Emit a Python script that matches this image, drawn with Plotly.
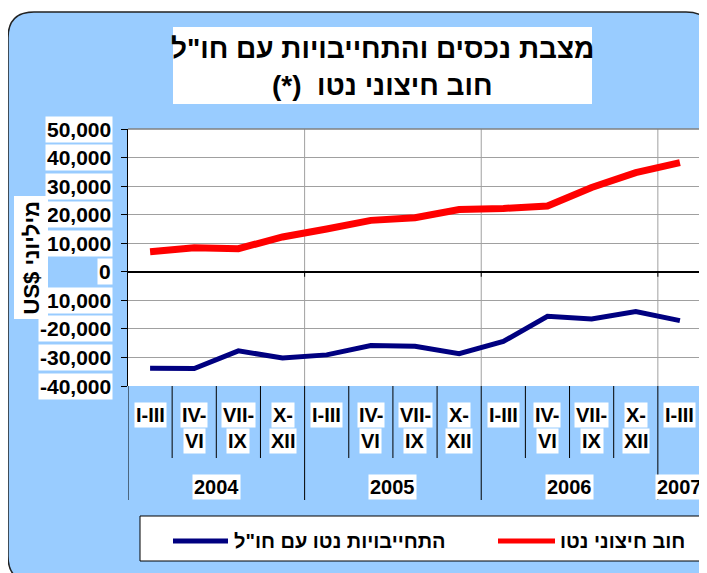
import plotly.graph_objects as go

# ---------------- data ----------------
years = ["2004", "2005", "2006", "2007"]
quarters_per_year = [4, 4, 4, 1]
quarter_labels = ["I-III", "IV-VI", "VII-IX", "X-XII"]
quarter_label_lines = [["I-III"], ["IV-", "VI"], ["VII-", "IX"], ["X-", "XII"]]

net_external_debt = [7000, 8400, 8100, 12200, 15000, 18000, 18900, 21800,
                     22200, 23000, 29500, 34700, 38200]
net_liabilities = [-33800, -33900, -27700, -30200, -29100, -25800, -26100,
                   -28700, -24400, -15600, -16500, -13900, -17100]

y_ticks = list(range(-40000, 50001, 10000))

name_debt = "חוב חיצוני נטו"
name_liab = 'התחייבויות נטו עם חו"ל'
title_line1 = 'מצבת נכסים והתחייבויות עם חו"ל'
title_line2 = "(*)\u00a0\u00a0חוב חיצוני נטו"
y_title = "US$ מיליוני"

# ---------------- layout helpers (screen pixel coords; page has 8px body margin) ----------------
W, H = 699, 565
OFF = 8
L, R, T, B = 128, 702, 129, 386
PW, PH = R - L, B - T


def px(x):
    return (x - L) / PW


def py(y):
    return (B - y) / PH


FONT = "Arial, Liberation Sans, DejaVu Sans, sans-serif"
BLUE_BG = "#99CCFF"

# categories
x_cats, x_quarter_idx, year_groups = [], [], []
i = 0
for yr, n in zip(years, quarters_per_year):
    start = i
    for q in range(n):
        x_cats.append(f"{quarter_labels[q]} {yr}")
        x_quarter_idx.append(q)
        i += 1
    year_groups.append((yr, start, i - 1))

fig = go.Figure()
fig.add_trace(go.Scatter(x=x_cats, y=net_liabilities, mode="lines", name=name_liab,
                         line=dict(color="#000080", width=5), showlegend=False))
fig.add_trace(go.Scatter(x=x_cats, y=net_external_debt, mode="lines", name=name_debt,
                         line=dict(color="#FF0000", width=7), showlegend=False))

shapes = []
# white page corners outside the rounded frame
shapes.append(dict(type="rect", xref="paper", yref="paper", layer="below",
                   x0=px(0), x1=px(720), y0=py(0), y1=py(600),
                   fillcolor="white", line=dict(width=0)))
# blue rounded background (runs past the right/bottom edges like the reference)
x0, x1, y0, y1, r = 8, 712, 12, 582, 26
X, Y = px, py
path = (f"M {X(x0+r)},{Y(y0)} L {X(x1-r)},{Y(y0)} Q {X(x1)},{Y(y0)} {X(x1)},{Y(y0+r)} "
        f"L {X(x1)},{Y(y1-r)} Q {X(x1)},{Y(y1)} {X(x1-r)},{Y(y1)} "
        f"L {X(x0+r)},{Y(y1)} Q {X(x0)},{Y(y1)} {X(x0)},{Y(y1-r)} "
        f"L {X(x0)},{Y(y0+r)} Q {X(x0)},{Y(y0)} {X(x0+r)},{Y(y0)} Z")
shapes.append(dict(type="path", path=path, xref="paper", yref="paper", layer="below",
                   fillcolor=BLUE_BG, line=dict(color="#222222", width=1.5)))
# white plot area
shapes.append(dict(type="rect", xref="paper", yref="paper", x0=0, x1=1, y0=0, y1=1,
                   layer="below", fillcolor="white", line=dict(width=0)))
# vertical gridlines at year boundaries
year_bounds = [g[1] - 0.5 for g in year_groups]
for b in year_bounds[1:]:
    shapes.append(dict(type="line", xref="x", yref="paper", x0=b, x1=b, y0=0, y1=1,
                       layer="below", line=dict(color="#A0A0A0", width=1)))
    shapes.append(dict(type="line", xref="x", yref="y", ysizemode="pixel", yanchor=0,
                       x0=b, x1=b, y0=0, y1=-5, line=dict(color="black", width=1)))
# plot border top / right
shapes.append(dict(type="line", xref="paper", yref="paper", x0=0, x1=1, y0=1, y1=1,
                   line=dict(color="#808080", width=1.5)))
shapes.append(dict(type="line", xref="paper", yref="paper", x0=1, x1=1, y0=0, y1=1,
                   line=dict(color="#808080", width=1.5)))
# category dividers
for k in range(len(x_cats)):
    b = k - 0.5
    long_line = b in year_bounds
    shapes.append(dict(type="line", xref="x", yref="paper", x0=b, x1=b,
                       y0=py(386), y1=py(500 if long_line else 458),
                       line=dict(color="black", width=1)))
# title box
shapes.append(dict(type="rect", xref="paper", yref="paper", x0=px(173), x1=px(592),
                   y0=py(104), y1=py(27), fillcolor="white", line=dict(width=0)))
# legend box
shapes.append(dict(type="rect", xref="paper", yref="paper", x0=px(140), x1=px(704),
                   y0=py(561), y1=py(516), fillcolor="white",
                   line=dict(color="black", width=1)))
shapes.append(dict(type="line", xref="paper", yref="paper", x0=px(173), x1=px(228),
                   y0=py(541), y1=py(541), line=dict(color="#000080", width=5)))
shapes.append(dict(type="line", xref="paper", yref="paper", x0=px(498), x1=px(555),
                   y0=py(541), y1=py(541), line=dict(color="#FF0000", width=5)))

ann = []
fs = 20


def A(**kw):
    base = dict(showarrow=False, xanchor="center", yanchor="middle")
    base.update(kw)
    ann.append(base)


# y tick labels
for v in y_ticks:
    A(text=f"<b>{v:,}</b>", xref="paper", yref="y", x=px(113), y=v, xanchor="right",
      bgcolor="white", borderpad=1, font=dict(family=FONT, size=21, color="black"))
# y title (drawn over the tick labels)
A(text=f"<b>{y_title}</b>", xref="paper", yref="paper", x=px(30.5), y=py(258),
  textangle=-90, bgcolor="white", borderpad=4,
  font=dict(family=FONT, size=22, color="black"))
# quarter labels
for k, q in enumerate(x_quarter_idx):
    for j, line in enumerate(quarter_label_lines[q]):
        A(text=f"<b>{line}</b>", xref="x", yref="paper", x=k, y=py(415 + 26 * j),
          bgcolor="white", borderpad=1, font=dict(family=FONT, size=fs, color="black"))
# year labels
for yr, s, e in year_groups:
    A(text=f"<b>{yr}</b>", xref="x", yref="paper", x=(s + e) / 2, y=py(487),
      bgcolor="white", borderpad=1, font=dict(family=FONT, size=fs, color="black"))
# title
A(text=f"<b>{title_line1}</b>", xref="paper", yref="paper", x=px(382.5), y=py(48),
  font=dict(family=FONT, size=28, color="black"))
A(text=f"<b>{title_line2}</b>", xref="paper", yref="paper", x=px(382.5), y=py(86),
  font=dict(family=FONT, size=28, color="black"))
# legend texts
A(text=f"<b>{name_liab}</b>", xref="paper", yref="paper", x=px(232), y=py(541),
  xanchor="left", font=dict(family=FONT, size=fs, color="black"))
A(text=f"<b>{name_debt}</b>", xref="paper", yref="paper", x=px(558), y=py(541),
  xanchor="left", font=dict(family=FONT, size=fs, color="black"))

fig.update_layout(
    width=W, height=H,
    margin=dict(l=L - OFF, r=W - (R - OFF), t=T - OFF, b=H - (B - OFF), pad=0),
    paper_bgcolor=BLUE_BG, plot_bgcolor="rgba(0,0,0,0)",
    showlegend=False,
    shapes=shapes, annotations=ann,
    xaxis=dict(type="category", categoryorder="array", categoryarray=x_cats,
               range=[-0.5, len(x_cats) - 0.5], showticklabels=False, showgrid=False,
               zeroline=False, showline=False, ticks=""),
    yaxis=dict(range=[y_ticks[0], y_ticks[-1]], tickvals=y_ticks, showticklabels=False,
               showgrid=True, gridcolor="#A0A0A0", gridwidth=1,
               zeroline=True, zerolinecolor="black", zerolinewidth=1.5,
               showline=True, linecolor="black", linewidth=1,
               ticks="outside", ticklen=6, tickcolor="black"),
)

fig.write_html("out.html")
